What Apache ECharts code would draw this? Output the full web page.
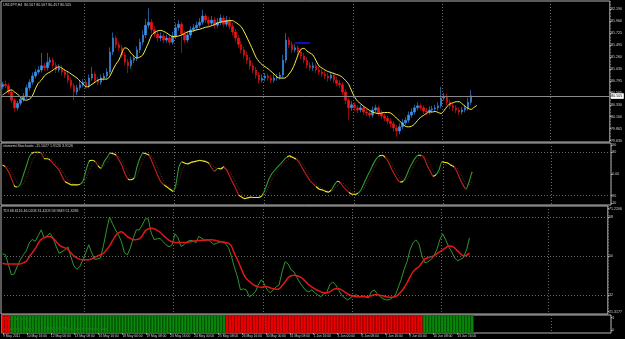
<!DOCTYPE html>
<html><head><meta charset="utf-8">
<script src="https://cdn.jsdelivr.net/npm/echarts@6/dist/echarts.min.js"></script>
<style>html,body{margin:0;padding:0;background:#000;}#c{width:625px;height:339px;}</style>
</head><body><div id="c"></div>
<script>
// ---------- data ----------
const timeLabels = ['9 May 2011','10 May 16:00','12 May 00:00','13 May 08:00','16 May 16:00','18 May 00:00','19 May 08:00','20 May 16:00','24 May 00:00','25 May 08:00','26 May 16:00','30 May 00:00','31 May 08:00','1 Jun 16:00','3 Jun 00:00','6 Jun 08:00','7 Jun 16:00','9 Jun 00:00','10 Jun 08:00','13 Jun 16:00'];
const weekStartIdx = [28, 58, 88, 118, 148, 184];

const opens = [80.68,80.73,80.70,80.58,80.42,80.27,80.36,80.44,80.50,80.66,
 80.77,80.89,80.97,81.01,81.09,81.05,81.16,81.20,81.10,81.01,
 81.05,80.97,80.91,80.81,80.70,80.58,80.66,80.72,80.77,80.70,
 80.85,80.93,80.81,80.77,80.85,80.89,80.97,81.36,81.63,81.50,
 81.44,81.30,81.16,81.09,81.20,81.24,81.40,81.55,81.69,81.88,
 81.94,81.79,81.71,81.63,81.67,81.59,81.63,81.55,81.67,81.83,
 81.90,81.71,81.59,81.69,81.79,81.83,81.88,81.94,82.06,81.98,
 81.92,81.98,81.88,81.94,82.02,81.90,81.98,81.86,81.75,81.63,
 81.51,81.40,81.30,81.20,81.09,81.01,80.91,80.81,80.85,80.89,
 80.85,80.81,80.85,80.87,80.91,81.20,81.59,81.50,81.40,81.44,
 81.36,81.28,81.20,81.10,81.05,81.09,81.01,80.97,80.93,80.89,
 80.85,80.91,80.81,80.75,80.72,80.58,80.42,80.27,80.33,80.27,
 80.23,80.27,80.19,80.17,80.13,80.23,80.27,80.17,80.11,80.07,
 80.01,79.96,79.88,79.82,79.90,79.98,80.03,80.13,80.19,80.27,
 80.31,80.27,80.21,80.19,80.23,80.25,80.27,80.31,80.46,80.50,
 80.38,80.31,80.27,80.23,80.19,80.23,80.27,80.38];
const closes = [80.73,80.70,80.58,80.42,80.27,80.36,80.44,80.50,80.66,80.77,
 80.89,80.97,81.01,81.09,81.05,81.16,81.20,81.10,81.01,81.05,
 80.97,80.91,80.81,80.70,80.58,80.66,80.72,80.77,80.70,80.85,
 80.93,80.81,80.77,80.85,80.89,80.97,81.36,81.63,81.50,81.44,
 81.30,81.16,81.09,81.20,81.24,81.40,81.55,81.69,81.88,81.94,
 81.79,81.71,81.63,81.67,81.59,81.63,81.55,81.67,81.83,81.90,
 81.71,81.59,81.69,81.79,81.83,81.88,81.94,82.06,81.98,81.92,
 81.98,81.88,81.94,82.02,81.90,81.98,81.86,81.75,81.63,81.51,
 81.40,81.30,81.20,81.09,81.01,80.91,80.81,80.85,80.89,80.85,
 80.81,80.85,80.87,80.91,81.20,81.59,81.50,81.40,81.44,81.36,
 81.28,81.20,81.10,81.05,81.09,81.01,80.97,80.93,80.89,80.85,
 80.91,80.81,80.75,80.72,80.58,80.42,80.27,80.33,80.27,80.23,
 80.27,80.19,80.17,80.13,80.23,80.27,80.17,80.11,80.07,80.01,
 79.96,79.88,79.82,79.90,79.98,80.03,80.13,80.19,80.27,80.31,
 80.27,80.21,80.19,80.23,80.25,80.27,80.31,80.46,80.50,80.38,
 80.31,80.27,80.23,80.19,80.23,80.27,80.38,80.505];
const highs = [80.78,80.80,80.75,80.63,80.46,80.41,80.50,80.56,80.72,80.83,
 80.96,81.03,81.08,81.34,81.15,81.34,81.26,81.25,81.16,81.12,
 81.10,81.03,80.97,80.86,80.75,80.72,80.79,80.83,80.82,80.92,
 81.07,80.98,80.87,80.92,80.95,81.04,81.45,81.74,81.68,81.56,
 81.50,81.36,81.22,81.27,81.30,81.47,81.62,81.78,82.00,82.21,
 82.00,81.86,81.78,81.74,81.73,81.70,81.69,81.75,81.92,81.98,
 81.95,81.77,81.76,81.86,81.90,81.95,82.02,82.18,82.11,82.05,
 82.06,82.04,82.02,82.09,82.07,82.06,82.04,81.92,81.81,81.69,
 81.57,81.46,81.37,81.26,81.15,81.07,80.97,80.92,80.95,80.94,
 80.91,80.92,80.93,80.97,81.30,81.73,81.65,81.56,81.51,81.49,
 81.42,81.34,81.26,81.16,81.16,81.14,81.07,81.03,80.99,80.95,
 80.98,80.96,80.87,80.81,80.77,80.63,80.47,80.40,80.38,80.32,
 80.33,80.32,80.25,80.22,80.30,80.33,80.31,80.22,80.16,80.12,
 80.06,80.01,79.93,79.97,80.05,80.09,80.20,80.26,80.33,80.38,
 80.36,80.32,80.27,80.30,80.31,80.33,80.38,80.68,80.56,80.55,
 80.43,80.36,80.32,80.28,80.29,80.33,80.47,80.62];
const lows = [80.63,80.65,80.53,80.37,80.20,80.22,80.31,80.39,80.45,80.60,
 80.72,80.84,80.92,80.96,80.99,81.00,81.10,81.04,80.95,80.96,
 80.90,80.85,80.75,80.64,80.42,80.52,80.61,80.67,80.64,80.65,
 80.80,80.75,80.71,80.72,80.80,80.84,80.92,81.30,81.44,81.38,
 81.24,81.10,80.95,81.03,81.14,81.18,81.34,81.49,81.63,81.82,
 81.72,81.65,81.56,81.57,81.53,81.54,81.49,81.50,81.61,81.77,
 81.34,81.53,81.54,81.63,81.74,81.78,81.83,81.89,81.92,81.86,
 81.87,81.82,81.83,81.88,81.84,81.85,81.80,81.68,81.56,81.44,
 81.33,81.23,81.13,81.02,80.94,80.84,80.74,80.76,80.79,80.80,
 80.75,80.76,80.80,80.82,80.86,81.14,81.44,81.34,81.35,81.30,
 81.22,81.14,81.04,80.99,80.99,80.95,80.91,80.87,80.83,80.78,
 80.80,80.75,80.69,80.66,80.52,80.35,80.03,80.21,80.21,80.17,
 80.18,80.13,80.11,80.07,80.08,80.18,80.11,80.05,80.01,79.95,
 79.89,79.81,79.71,79.76,79.85,79.93,79.98,80.08,80.14,80.22,
 80.22,80.15,80.13,80.14,80.18,80.20,80.22,80.26,80.41,80.32,
 80.25,80.21,80.17,80.13,80.14,80.18,80.22,80.33];
const maValues = [80.52,80.56,80.60,80.62,80.58,80.54,80.48,80.43,80.42,80.44,
 80.50,80.64,80.75,80.81,80.89,80.94,80.97,81.01,81.05,81.07,
 81.04,81.00,80.97,80.93,80.89,80.85,80.79,80.73,80.68,80.69,
 80.73,80.77,80.81,80.83,80.83,80.83,80.89,81.01,81.12,81.20,
 81.34,81.44,81.42,81.34,81.28,81.24,81.26,81.30,81.42,81.55,
 81.69,81.74,81.77,81.78,81.76,81.73,81.69,81.66,81.66,81.67,
 81.69,81.72,81.75,81.76,81.77,81.79,81.80,81.82,81.84,81.85,
 81.87,81.89,81.92,81.94,81.95,81.96,81.97,81.97,81.94,81.90,
 81.85,81.75,81.63,81.51,81.38,81.25,81.17,81.11,81.07,81.03,
 80.98,80.93,80.87,80.85,80.85,80.86,80.93,81.01,81.14,81.30,
 81.41,81.43,81.38,81.34,81.30,81.20,81.09,81.05,81.01,80.98,
 80.96,80.94,80.92,80.90,80.86,80.80,80.73,80.60,80.48,80.40,
 80.35,80.30,80.26,80.22,80.19,80.17,80.16,80.17,80.18,80.18,
 80.17,80.13,80.07,80.02,79.96,79.91,79.90,79.91,79.95,80.02,
 80.08,80.12,80.16,80.19,80.19,80.20,80.18,80.16,80.22,80.30,
 80.35,80.37,80.39,80.39,80.35,80.30,80.26,80.24,80.28,80.32];
const blueMarkIdx = [98, 103];
const blueMarkPrice = 81.54;

const stochMain = [62,60,53,44,33,32,36,49,61,74,
 79,80,80,79,71,71,69,64,60,55,
 46,39,37,35,35,35,36,41,56,68,
 69,67,61,58,67,73,79,78,76,69,
 61,50,43,42,44,60,72,79,78,76,
 67,57,47,39,35,32,29,26,36,60,
 67,65,64,66,67,68,69,68,67,65,
 58,54,58,57,60,55,47,38,30,21,
 18,16,17,18,17.5,17.5,18,21,31,42,
 50,55,60,64,69,73,75,73,71,67,
 60,53,46,40,36,32,29,28,26,25,
 28,35,40,38,32,28,24,22,22,24,
 29,38,47,55,64,71,75,76,73,67,
 58,50,43,39,40,47,57,65,72,76,
 76,72,62,54,47,49,56,67,66,65,
 62,60,53,43,35,29,39,53];
const stochSignal = [64,62,59,53,45,38,34,36,45,57,
 69,76,79,80,77,74,71,68,64,60,
 54,47,41,37,36,35,35,37,44,55,
 64,68,66,62,62,66,73,77,78,74,
 68,60,51,45,43,48,59,70,76,78,
 74,67,57,48,40,35,32,29,30,41,
 54,64,65,65,66,67,68,68,68,67,
 63,59,57,56,58,57,54,47,38,30,
 23,19,17,17,17.5,17.5,18,19,23,32,
 41,49,55,60,64,69,72,74,73,70,
 66,60,53,46,41,36,32,30,28,26,
 26,29,34,38,37,33,28,25,23,23,
 25,30,38,47,55,63,70,74,75,72,
 66,58,50,44,41,42,48,56,65,71,
 75,75,70,63,54,50,51,57,63,66,
 64,62,58,52,44,36,34,40];
const stochLevels = [80, 20];

const tdiFast = [51.2,50.7,46.1,41.5,41.9,45.6,48.4,50.7,52.5,56.2,
 57.8,56.9,59.5,62.2,58.5,59.5,60.6,58.5,54.8,51.4,
 52.1,53.0,54.4,49.8,45.6,44.0,45.2,48.4,51.6,55.3,
 51.6,48.6,48.8,49.3,55.3,62.2,68.2,65.0,62.2,59.9,
 56.7,51.6,50.7,53.9,58.5,62.2,62.2,64.5,67.3,67.3,
 60.8,57.6,58.1,58.3,56.7,55.3,54.4,55.3,60.4,58.5,
 54.6,55.3,56.7,57.4,57.2,56.2,59.2,58.3,57.4,57.8,
 56.7,55.5,56.0,56.5,56.8,55.8,53.9,49.8,44.7,40.5,
 34.5,35.0,34.5,31.3,32.2,33.6,36.8,39.2,37.3,34.5,
 33.2,34.5,35.9,36.8,42.8,47.5,46.5,43.8,42.8,40.1,
 37.8,35.9,34.1,33.6,34.5,33.2,32.2,31.3,32.7,33.2,
 36.8,38.2,36.8,34.5,32.2,30.8,29.9,30.8,31.8,32.2,
 31.3,31.8,31.3,30.8,33.6,34.5,32.7,31.3,30.4,29.9,
 29.9,30.8,31.8,35.5,39.2,43.8,47.5,53.0,56.2,57.6,
 55.8,50.2,47.0,47.5,48.4,50.2,53.0,57.6,60.4,57.6,
 54.5,52.1,49.3,47.9,48.6,49.5,53.0,58.5];
const tdiSlow = [46.8,46.5,46.4,46.4,46.4,46.5,46.5,47.0,47.7,49.8,
 51.6,53.5,56.0,57.9,58.5,59.0,59.1,58.3,56.9,55.3,
 54.4,53.9,53.2,51.6,50.2,49.3,48.6,48.4,48.4,48.4,
 48.8,49.5,50.2,50.7,51.4,53.0,54.8,57.2,59.5,60.8,
 61.3,60.4,59.1,58.3,57.6,57.7,58.0,59.5,61.8,62.6,
 62.9,62.7,62.0,61.1,59.7,58.5,57.4,56.7,56.4,56.4,
 56.4,56.4,56.4,56.7,56.9,57.2,57.3,57.4,57.4,57.5,
 57.6,57.5,57.2,56.8,56.6,56.4,56.0,54.6,51.2,48.4,
 45.2,41.9,39.6,38.4,37.3,36.4,35.9,35.7,35.9,35.9,
 35.5,35.0,34.8,35.0,36.4,38.2,40.1,41.0,41.2,41.0,
 40.5,39.6,38.2,36.8,35.9,35.0,34.3,33.6,33.2,33.2,
 33.6,34.5,35.0,35.0,34.5,33.6,32.7,32.0,31.5,31.3,
 31.3,31.3,31.3,31.5,31.8,32.2,32.2,32.0,31.8,31.3,
 31.1,31.1,31.3,32.2,33.6,35.5,37.8,40.5,42.8,44.2,
 45.2,47.0,48.8,49.3,49.8,50.2,51.2,52.1,53.0,53.9,
 54.7,54.6,53.9,52.5,51.2,50.2,50.5,51.6];
const tdiLevels = [68, 50, 32];

const histState = [-1,-1,-1,1,1,1,1,1,1,1,
 1,1,1,1,1,1,1,1,1,1,
 1,1,1,1,1,1,1,1,1,1,
 1,1,1,1,1,1,1,1,1,1,
 1,1,1,1,1,1,1,1,1,1,
 1,1,1,1,1,1,1,1,1,1,
 1,1,1,1,1,1,1,1,1,1,
 1,1,1,1,1,-1,-1,-1,-1,-1,
 -1,-1,-1,-1,-1,-1,-1,-1,-1,-1,
 -1,-1,-1,-1,-1,-1,-1,-1,-1,-1,
 -1,-1,-1,-1,-1,-1,-1,-1,-1,-1,
 -1,-1,-1,-1,-1,-1,-1,-1,-1,-1,
 -1,-1,-1,-1,-1,-1,-1,-1,-1,-1,
 -1,-1,-1,-1,-1,-1,-1,-1,-1,-1,
 -1,1,1,1,1,1,1,1,1,1,
 1,1,1,1,1,1,1,1];

// axis tick labels
const priceTickValues = [82.190,81.960,81.725,81.495,81.260,81.030,80.795,80.565,80.330,80.100,79.865,79.630];
const priceTickLabels = ['82.190','81.960','81.725','81.495','81.260','81.030','80.795','80.565','80.330','80.100','79.865','79.630'];
const stochTickValues = [90, 80, 50, 20, 10];
const stochTickLabels = ['90','80','0.00','20','10'];
const tdiTickValues = [71.97, 68, 50, 32, 24.43];
const tdiTickLabels = ['71.2206','68','50','32','21.3177'];
const histTickValues = [0.86, 0.17];
const histTickLabels = ['1','0'];

// ---------- chart ----------
const FONT = 'Liberation Sans';
const TXT = '#d0d0d0';
const NCAT = 204;
const categories = Array.from({length: NCAT}, (_, i) => String(i));

function xAxisFor(g, withLabels) {
  const lab = (i) => i % 8 === 0 && i / 8 < timeLabels.length;
  return {
    type: 'category', gridIndex: g, data: categories, boundaryGap: true,
    axisLine: {show: false},
    axisTick: withLabels ? {show: true, interval: lab, alignWithLabel: true, length: 1.5, lineStyle: {color: '#b4b4b4'}} : {show: false},
    axisLabel: withLabels ? {show: true, interval: lab, formatter: (v, i) => timeLabels[i / 8] || '', align: 'left',
      color: TXT, fontSize: 3.3, fontFamily: FONT, margin: 1.5} : {show: false},
    splitLine: {show: true, interval: (i) => weekStartIdx.includes(i), lineStyle: {color: '#6a6a6a', type: [1, 2], width: 1}}
  };
}
function yAxisFor(g, min, max, vals, labels) {
  return {
    type: 'value', gridIndex: g, position: 'right', min: min, max: max,
    axisLine: {show: false}, splitLine: {show: false},
    axisTick: {show: true, customValues: vals, length: 1.5, lineStyle: {color: '#b4b4b4'}},
    axisLabel: {show: true, customValues: vals, color: TXT, fontSize: 3.6, fontFamily: FONT, margin: 1.2,
      formatter: (v) => { const k = vals.findIndex(x => Math.abs(x - v) < 1e-6); return k >= 0 ? labels[k] : ''; }}
  };
}
function levelLine(vals) {
  return {silent: true, symbol: 'none', label: {show: false},
    lineStyle: {color: '#6a6a6a', type: [1, 2], width: 1},
    data: vals.map(v => ({yAxis: v}))};
}

// stochastic colour sections from slope
const stochPieces = [];
const stochColor = (d) => d > 3 ? '#2f9a2f' : (d < -3 ? '#c82020' : '#f0f020');
for (let i = 1; i < stochMain.length; i++) {
  stochPieces.push({gte: i - 1, lt: i, color: stochColor(stochMain[i] - stochMain[i - 1])});
}

const lastClose = closes[closes.length - 1];
const border = {show: true, borderColor: '#b4b4b4', borderWidth: 1, backgroundColor: 'transparent'};

const option = {
  backgroundColor: '#000000',
  animation: false,
  grid: [
    Object.assign({left: 1, right: 14, top: 1, height: 141}, border),
    Object.assign({left: 1, right: 14, top: 143, height: 62}, border),
    Object.assign({left: 1, right: 14, top: 206, height: 108}, border),
    Object.assign({left: 1, right: 14, top: 315, height: 18}, border)
  ],
  xAxis: [xAxisFor(0, false), xAxisFor(1, false), xAxisFor(2, false), xAxisFor(3, true)],
  yAxis: [
    yAxisFor(0, 79.605, 82.352, priceTickValues, priceTickLabels),
    yAxisFor(1, 7.14, 92.86, stochTickValues, stochTickLabels),
    yAxisFor(2, 23.37, 73.22, tdiTickValues, tdiTickLabels),
    yAxisFor(3, 0, 1, histTickValues, histTickLabels)
  ],
  visualMap: [{
    type: 'piecewise', show: false, dimension: 0, seriesIndex: 3,
    pieces: stochPieces, outOfRange: {color: '#f0f020'}
  }],
  series: [
    {
      type: 'candlestick', xAxisIndex: 0, yAxisIndex: 0, barWidth: 2,
      data: opens.map((o, i) => [o, closes[i], lows[i], highs[i]]),
      itemStyle: {color: '#3a93f2', color0: '#f01616', borderColor: '#3a93f2', borderColor0: '#f01616', borderWidth: 0.6},
      markLine: {
        silent: true, symbol: 'none', animation: false,
        data: [
          {yAxis: lastClose, lineStyle: {color: '#8a8a8a', type: 'solid', width: 1},
           label: {show: true, position: 'end', distance: 1, formatter: () => lastClose.toFixed(3),
             backgroundColor: '#ffffff', color: '#000000', fontSize: 3.6, fontFamily: FONT, padding: [0.8, 1.5, 0.8, 0.5]}},
          [{coord: [String(blueMarkIdx[0]), blueMarkPrice], lineStyle: {color: '#1414e6', type: 'solid', width: 1.6}, label: {show: false}},
           {coord: [String(blueMarkIdx[1]), blueMarkPrice]}]
        ]
      }
    },
    {type: 'line', xAxisIndex: 0, yAxisIndex: 0, data: maValues, symbol: 'none', smooth: 0.3,
     lineStyle: {color: '#f4f048', width: 1}},
    {type: 'line', xAxisIndex: 1, yAxisIndex: 1, data: stochSignal, symbol: 'none',
     lineStyle: {color: '#8a3a30', width: 0.8, type: [1, 1.5]}, markLine: levelLine(stochLevels)},
    {type: 'line', xAxisIndex: 1, yAxisIndex: 1, data: stochMain, symbol: 'none', smooth: 0.2,
     lineStyle: {width: 1.1}},
    {type: 'line', xAxisIndex: 2, yAxisIndex: 2, data: tdiFast, symbol: 'none',
     lineStyle: {color: '#2e962e', width: 1}, markLine: levelLine(tdiLevels)},
    {type: 'line', xAxisIndex: 2, yAxisIndex: 2, data: tdiSlow, symbol: 'none', smooth: 0.2,
     lineStyle: {color: '#e01818', width: 1.5}},
    {type: 'bar', xAxisIndex: 3, yAxisIndex: 3, barCategoryGap: '0%',
     data: histState.map(s => ({value: Math.abs(s), itemStyle: {color: s > 0 ? '#0a8c0a' : '#f20000', borderColor: s > 0 ? '#056205' : '#b80000', borderWidth: 0.6}}))}
  ],
  graphic: [
    {type: 'text', left: 3, top: 2.6, silent: true, style: {text: 'USDJPY,H4  80.567 80.567 80.457 80.505', fill: TXT, font: '3.6px "Liberation Sans"'}},
    {type: 'text', left: 3, top: 144.2, silent: true, style: {text: 'stomemi Stochastic -11.1027 1.9126 3.9126', fill: TXT, font: '3.6px "Liberation Sans"'}},
    {type: 'text', left: 3, top: 209, silent: true, style: {text: 'TDI 68.6116 46.0208 31.4209 58.9849 51.3286', fill: TXT, font: '3.6px "Liberation Sans"'}},
    {type: 'text', left: 3, top: 316.6, silent: true, style: {text: 'TMS-One Histo,D1 1.0', fill: '#e8e8e8', font: '3.6px "Liberation Sans"'}},
    {type: 'text', left: 3, top: 327.4, silent: true, style: {text: 'MetaTrader - Alpari UK, \u00a9 2001-2010 MetaQuotes Software Corp.', fill: '#e8e8e8', font: '3.6px "Liberation Sans"'}}
  ]
};

const chart = echarts.init(document.getElementById('c'), null, {renderer: 'canvas'});
chart.setOption(option);
</script>
</body></html>
